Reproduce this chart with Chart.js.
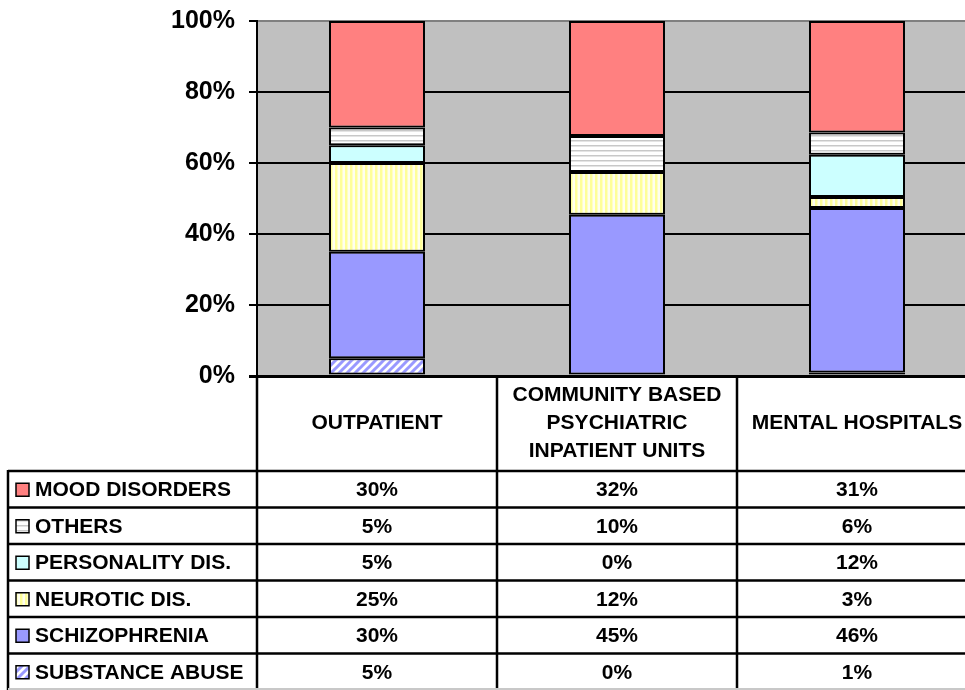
<!DOCTYPE html>
<html>
<head>
<meta charset="utf-8">
<script src="https://cdn.jsdelivr.net/npm/chart.js@4.4.1/dist/chart.umd.min.js"></script>
<style>
  html, body { margin: 0; padding: 0; background: #fff; overflow: hidden; }
  /* the plot runs a little past the right edge of the window, as in the original */
  #wrap { position: relative; width: 977px; height: 690px; }
</style>
</head>
<body>
<div id="wrap"><canvas id="chart"></canvas></div>
<script>
// categories (table columns), multi-line where the original wraps
const categories = ['OUTPATIENT', ['COMMUNITY BASED', 'PSYCHIATRIC', 'INPATIENT UNITS'], 'MENTAL HOSPITALS'];

// series values in percent (table shows them rounded)
const substanceAbuse = [5, 0, 1.0];
const schizophrenia  = [30, 45.4, 46.3];
const neuroticDis    = [25, 12.1, 3.1];
const personalityDis = [5, 0, 11.9];
const others         = [5, 10.1, 6.3];
const moodDisorders  = [30, 32.4, 31.4];

// y axis tick values
const yTicks = [0, 20, 40, 60, 80, 100];

const FONT = '"Liberation Sans", Arial, sans-serif';
const canvas = document.getElementById('chart');
const ctx = canvas.getContext('2d');

// small helper to build a repeating fill
function makePattern(w, h, draw) {
    const c = document.createElement('canvas');
    c.width = w;
    c.height = h;
    draw(c.getContext('2d'), w, h);
    return ctx.createPattern(c, 'repeat');
}

// blue diagonal hatch on white
const diagBlue = makePattern(8, 8, (g, w, h) => {
    g.fillStyle = '#fff';
    g.fillRect(0, 0, w, h);
    g.strokeStyle = '#9999FF';
    g.lineWidth = 3;
    g.beginPath();
    g.moveTo(-2, 10); g.lineTo(10, -2);
    g.moveTo(-2, 2); g.lineTo(2, -2);
    g.moveTo(6, 10); g.lineTo(10, 6);
    g.stroke();
});
// pale yellow vertical stripes
const vertYellow = makePattern(5, 1, (g) => {
    g.fillStyle = '#FFFFEE';
    g.fillRect(0, 0, 5, 1);
    g.fillStyle = '#FFFF99';
    g.fillRect(0, 0, 2, 1);
    g.fillStyle = '#FFFFC4';
    g.fillRect(2, 0, 1, 1);
});
// white with grey horizontal lines
const horzGrey = makePattern(1, 5, (g) => {
    g.fillStyle = '#fff';
    g.fillRect(0, 0, 1, 5);
    g.fillStyle = '#C8C8C8';
    g.fillRect(0, 0, 1, 1);
    g.fillStyle = '#E4E4E4';
    g.fillRect(0, 1, 1, 1);
});

function series(label, data, fill) {
    return {
        label: label,
        data: data,
        backgroundColor: fill,
        borderColor: '#000',
        borderWidth: 2,
        borderSkipped: false,
        barPercentage: 1.0,
        categoryPercentage: 0.4
    };
}

// grey plot background
const plotBackground = {
    id: 'plotBackground',
    beforeDraw(chart) {
        const a = chart.chartArea, c = chart.ctx;
        c.save();
        c.fillStyle = '#C0C0C0';
        c.fillRect(a.left, a.top, a.right - a.left, a.bottom - a.top);
        c.restore();
    }
};

// data table under the plot, built from the datasets
const dataTable = {
    id: 'dataTable',
    afterDraw(chart) {
        const c = chart.ctx, x = chart.scales.x, a = chart.chartArea;
        const colW = (a.right - a.left) / categories.length;
        const top = a.bottom, headBottom = 471, rowH = 36.5, tableLeft = 8;
        const rows = chart.data.datasets.slice().reverse();
        const bottom = headBottom + rows.length * rowH;

        c.save();
        c.fillStyle = '#000';
        c.font = 'bold 21px ' + FONT;
        c.textBaseline = 'middle';
        c.textAlign = 'center';

        // header cells
        const mid = (top + headBottom) / 2;
        categories.forEach((cat, i) => {
            const lines = Array.isArray(cat) ? cat : [cat];
            const cx = x.getPixelForValue(i);
            lines.forEach((t, j) => {
                c.fillText(t, cx, mid + (j - (lines.length - 1) / 2) * 28);
            });
        });

        // body rows
        rows.forEach((ds, r) => {
            const cy = headBottom + r * rowH + rowH / 2;
            c.textAlign = 'center';
            c.fillStyle = '#000';
            ds.data.forEach((v, i) => {
                c.fillText(Math.round(v) + '%', x.getPixelForValue(i), cy + 1);
            });
            // legend key
            c.fillStyle = ds.backgroundColor;
            c.fillRect(16, cy - 6, 13, 13);
            c.strokeStyle = '#000';
            c.lineWidth = 1.5;
            c.strokeRect(16, cy - 6, 13, 13);
            c.fillStyle = '#000';
            c.textAlign = 'left';
            c.fillText(ds.label, 35, cy + 1);
        });

        // grid of the table
        c.strokeStyle = '#000';
        c.lineWidth = 2.5;
        c.beginPath();
        for (let r = 0; r < rows.length; r++) {
            const y = headBottom + r * rowH;
            c.moveTo(tableLeft, y);
            c.lineTo(a.right, y);
        }
        c.moveTo(tableLeft, headBottom - 1);
        c.lineTo(tableLeft, bottom);
        for (let i = 0; i <= categories.length; i++) {
            const xx = a.left + i * colW;
            c.moveTo(xx, top);
            c.lineTo(xx, bottom);
        }
        c.stroke();
        c.strokeStyle = '#C8C8C8';
        c.lineWidth = 2;
        c.beginPath();
        c.moveTo(tableLeft, bottom - 1);
        c.lineTo(a.right, bottom - 1);
        c.stroke();
        c.restore();
    }
};

const config = {
    type: 'bar',
    data: {
        labels: categories,
        datasets: [
            series('SUBSTANCE ABUSE', substanceAbuse, diagBlue),
            series('SCHIZOPHRENIA', schizophrenia, '#9999FF'),
            series('NEUROTIC DIS.', neuroticDis, vertYellow),
            series('PERSONALITY DIS.', personalityDis, '#CCFFFF'),
            series('OTHERS', others, horzGrey),
            series('MOOD DISORDERS', moodDisorders, '#FF8080')
        ]
    },
    options: {
        responsive: true,
        maintainAspectRatio: false,
        animation: false,
        layout: {
            padding: { top: 21, bottom: 314, left: 0, right: 0 }
        },
        scales: {
            x: {
                stacked: true,
                display: false
            },
            y: {
                stacked: true,
                min: 0,
                max: 100,
                afterBuildTicks: (axis) => {
                    axis.ticks = yTicks.map(v => ({ value: v }));
                },
                afterFit: (axis) => {
                    axis.width = 257;
                    // labels may hang over the plot edges; keep the plot where the original has it
                    axis.paddingTop = 0;
                    axis.paddingBottom = 0;
                },
                ticks: {
                    callback: (v) => v + '%',
                    color: '#000',
                    padding: 14,
                    font: { family: FONT, size: 25, weight: 'bold' }
                },
                grid: {
                    color: (c) => (c.tick && c.tick.value === 100) ? '#808080' : '#000',
                    lineWidth: (c) => (c.tick && c.tick.value === 0) ? 3 : 2,
                    tickColor: '#000',
                    tickLength: 8,
                    drawTicks: true
                },
                border: { display: true, color: '#000', width: 2 }
            }
        },
        plugins: {
            legend: { display: false },
            tooltip: { enabled: false }
        }
    },
    plugins: [plotBackground, dataTable]
};

new Chart(ctx, config);
</script>
</body>
</html>
